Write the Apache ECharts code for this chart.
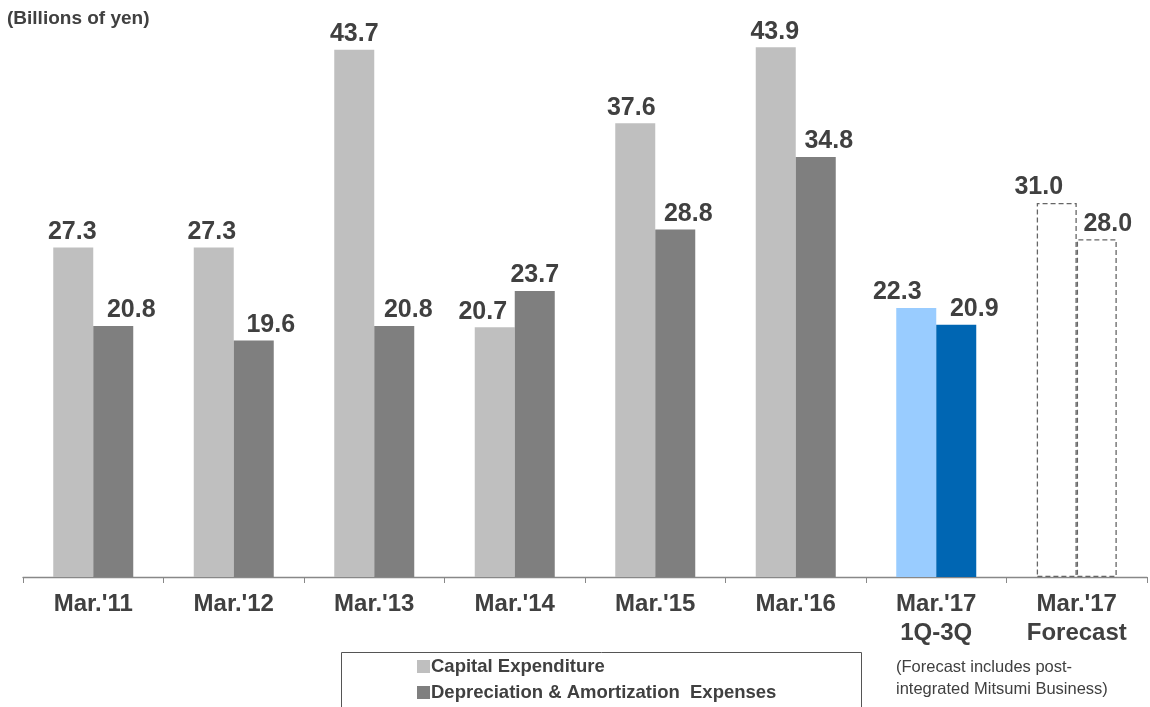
<!DOCTYPE html>
<html><head><meta charset="utf-8">
<script src="https://cdn.jsdelivr.net/npm/echarts@6/dist/echarts.min.js"></script>
<style>html,body{margin:0;padding:0;background:#fff}#c{width:1150px;height:707px}</style>
</head><body><div id="c"></div>
<script>
const categories = ["Mar.'11", "Mar.'12", "Mar.'13", "Mar.'14", "Mar.'15", "Mar.'16", "Mar.'17\n1Q-3Q", "Mar.'17\nForecast"];
const capex = [27.3, 27.3, 43.7, 20.7, 37.6, 43.9, 22.3, 31.0];
const depreciation = [20.8, 19.6, 20.8, 23.7, 28.8, 34.8, 20.9, 28.0];
const seriesNames = ["Capital Expenditure", "Depreciation & Amortization  Expenses"];

// label horizontal nudges (style only)
const capexLabelShift = [-1, -2, 0, -12, -4, -1, -19, -18];
const depLabelShift = [18, 17, 14, 0, 13, 13, 18, 11];

const FONT = '"Liberation Sans", Arial, sans-serif';
function styled(values, shifts, actual, forecastIdx, actualIdx) {
  return values.map((v, i) => {
    const item = { value: v, label: { offset: [shifts[i], 0] } };
    if (i === actualIdx) item.itemStyle = { color: actual };
    if (i === forecastIdx) item.itemStyle = { color: '#ffffff', borderColor: '#666666', borderWidth: 1.3, borderType: [5, 3] };
    return item;
  });
}
const labelCfg = { show: true, position: 'top', distance: 3, color: '#404040', fontFamily: FONT, fontWeight: 'bold', fontSize: 25, formatter: p => p.value.toFixed(1) };
const legendText = { color: '#404040', fontWeight: 'bold', fontSize: 18.5, fontFamily: FONT, padding: [0, 0, 0, -4] };

const chart = echarts.init(document.getElementById('c'));
chart.setOption({
  animation: false,
  textStyle: { fontFamily: FONT },
  grid: { left: 23, right: 3, top: 34, bottom: 130 },
  legend: [
    { left: 412, top: 652, itemWidth: 13, itemHeight: 13, icon: 'rect', textStyle: legendText, data: [seriesNames[0]] },
    { left: 412, top: 678, itemWidth: 13, itemHeight: 13, icon: 'rect', textStyle: legendText, data: [seriesNames[1]] }
  ],
  graphic: [
    { type: 'rect', shape: { x: 341.5, y: 652.5, width: 520, height: 80 }, style: { fill: 'none', stroke: '#555', lineWidth: 1 }, silent: true },
    { type: 'text', left: 7, top: 9, style: { text: '(Billions of yen)', fill: '#404040', font: 'bold 19px ' + FONT } },
    { type: 'text', left: 896, top: 656, style: { text: '(Forecast includes post-\nintegrated Mitsumi Business)', fill: '#404040', font: '16.5px ' + FONT, lineHeight: 22 } }
  ],
  xAxis: {
    type: 'category', data: categories,
    axisLine: { lineStyle: { color: '#888', width: 1.3 } },
    axisTick: { show: true, length: 6, lineStyle: { color: '#888' } },
    axisLabel: { color: '#404040', fontWeight: 'bold', fontSize: 24, fontFamily: FONT, margin: 13, lineHeight: 29 }
  },
  yAxis: { type: 'value', min: 0, max: 45, show: false, splitLine: { show: false } },
  series: [
    { name: seriesNames[0], type: 'bar', barWidth: 40, barGap: '0%', itemStyle: { color: '#bfbfbf' },
      data: styled(capex, capexLabelShift, '#99ccff', 7, 6), label: labelCfg },
    { name: seriesNames[1], type: 'bar', barWidth: 40, barGap: '0%', itemStyle: { color: '#7f7f7f' },
      data: styled(depreciation, depLabelShift, '#0066b3', 7, 6), label: labelCfg }
  ]
});
</script></body></html>
